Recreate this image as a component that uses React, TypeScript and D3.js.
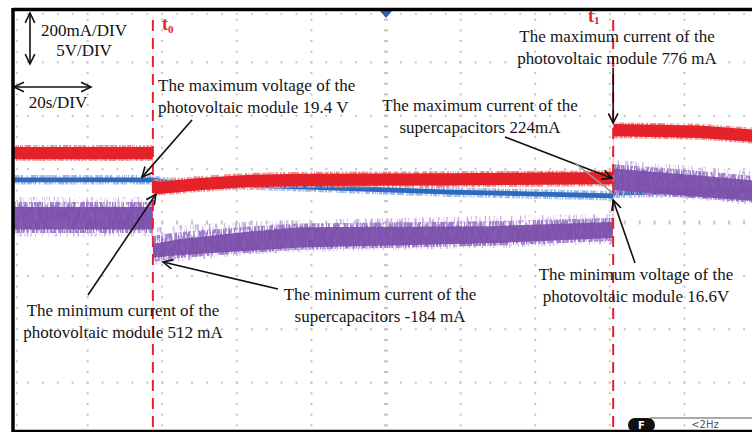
import React from 'react';
import * as d3 from 'd3';

// switching instants, seconds from the left edge of the screen (20 s/div)
const t0 = 37.5;
const t1 = 160.9;

// PV module current (red trace): [time s, position in divisions]
const pvCurrent: [number, number][] = [
  [0, 1.3], [37.4, 1.3], [37.6, 0.67], [39.4, 0.65], [50, 0.72], [63.5, 0.78],
  [77, 0.8], [117, 0.81], [160.8, 0.83], [161, 1.73], [184, 1.7], [200, 1.62],
];

// PV module voltage (blue trace)
const pvVoltage: [number, number][] = [
  [0, 0.8], [37.5, 0.8], [40, 0.76], [63.5, 0.7], [77, 0.67], [117, 0.57],
  [160.8, 0.5], [161, 0.55], [175, 0.57], [200, 0.61],
];

// supercapacitor current (purple trace): [time, centre, core half width, spike top, spike bottom]
const scCurrent: [number, number, number, number, number][] = [
  [0, 0.08, 0.21, 0.48, -0.26], [37.4, 0.08, 0.21, 0.48, -0.26],
  [37.6, -0.53, 0.13, -0.1, -0.8], [45, -0.46, 0.15, -0.05, -0.72],
  [63.5, -0.35, 0.18, 0.02, -0.6], [77, -0.28, 0.19, 0.05, -0.55],
  [128, -0.23, 0.16, 0.12, -0.48], [160.8, -0.14, 0.15, 0.16, -0.4],
  [161, 0.81, 0.2, 1.17, 0.5], [184, 0.68, 0.2, 1.05, 0.42], [200, 0.59, 0.19, 0.95, 0.32],
];

const scaleLines = ['200mA/DIV', '5V/DIV'];
const timeLabel = '20s/DIV';

const serif = '"Liberation Serif", "Times New Roman", serif';

const W = 752;
const H = 432;

const x = d3.scaleLinear().domain([0, 200]).range([13, 759]);
const y = d3.scaleLinear().domain([4, -4]).range([9, 436]);

// annotation: text lines, anchor in px, arrow tail px, arrow tip in data units
const notes = [
  { lines: ['The maximum voltage of the', 'photovoltaic module 19.4 V'], tx: 158, ty: 91, anchor: 'start', tail: [192, 120], tip: [34.6, 0.85] },
  { lines: ['The maximum current of the', 'photovoltaic module 776 mA'], tx: 617, ty: 42, anchor: 'middle', tail: [t1, 2.9], tip: [t1, 1.86], tailData: true },
  { lines: ['The maximum current of the', 'supercapacitors 224mA'], tx: 480, ty: 111, anchor: 'middle', tail: [505, 137], tip: [160.6, 0.83] },
  { lines: ['The minimum current of the', 'photovoltaic module 512 mA'], tx: 123, ty: 316, anchor: 'middle', tail: [88, 295], tip: [38.3, 0.53] },
  { lines: ['The minimum current of the', 'supercapacitors -184 mA'], tx: 380, ty: 300, anchor: 'middle', tail: [278, 289], tip: [40.2, -0.74] },
  { lines: ['The minimum voltage of the', 'photovoltaic module 16.6V'], tx: 636, ty: 280, anchor: 'middle', tail: [635, 263], tip: [t1, 0.42] },
];

function Arrow({ x1, y1, x2, y2 }: { x1: number; y1: number; x2: number; y2: number }) {
  const a = Math.atan2(y2 - y1, x2 - x1);
  const len = 11;
  const sp = 0.45;
  const h1 = [x2 - len * Math.cos(a - sp), y2 - len * Math.sin(a - sp)];
  const h2 = [x2 - len * Math.cos(a + sp), y2 - len * Math.sin(a + sp)];
  return (
    <g stroke="#111" strokeWidth={1.6} fill="none">
      <line x1={x1} y1={y1} x2={x2} y2={y2} />
      <polyline points={`${h1[0]},${h1[1]} ${x2},${y2} ${h2[0]},${h2[1]}`} />
    </g>
  );
}

export default function App() {
  const band = (d: [number, number][], hw: number) =>
    d3.area<[number, number]>()
      .x(p => x(p[0]))
      .y0(p => y(p[1] - hw))
      .y1(p => y(p[1] + hw))(d) || '';

  const scArea = (top: (r: number[]) => number, bot: (r: number[]) => number) =>
    d3.area<number[]>()
      .x(r => x(r[0]))
      .y0(r => y(bot(r)))
      .y1(r => y(top(r)))(scCurrent) || '';

  // grid dots
  const dots: JSX.Element[] = [];
  for (let i = 1; i < 10; i++) {
    const gx = x(i * 20);
    const centre = i === 5;
    for (let v = -4; v <= 4.001; v += 0.2) {
      const gy = y(v);
      if (gy < 12 || gy > 430) continue;
      dots.push(<rect key={`v${i}_${v.toFixed(1)}`} x={gx - (centre ? 2 : 1)} y={gy - 1} width={centre ? 4 : 2} height={2} fill="#c4c4c4" />);
    }
  }
  for (let j = -3; j <= 3; j++) {
    const gy = y(j);
    const centre = j === 0;
    for (let t = 0; t <= 200; t += 4) {
      const gx = x(t);
      if (gx < 16) continue;
      dots.push(<rect key={`h${j}_${t}`} x={gx - 1} y={gy - (centre ? 2 : 1)} width={2} height={centre ? 4 : 2} fill="#c4c4c4" />);
    }
  }
  // border ticks
  for (let v = -4; v <= 4.001; v += 0.2) {
    const gy = y(v);
    if (gy < 14 || gy > 430) continue;
    dots.push(<rect key={`lb${v.toFixed(1)}`} x={16} y={gy - 1} width={2} height={2} fill="#cfcfcf" />);
  }
  for (let t = 4; t <= 200; t += 4) {
    dots.push(<rect key={`tb${t}`} x={x(t) - 1} y={13} width={2} height={2} fill="#cfcfcf" />);
  }

  const xt0 = x(t0);
  const xt1 = x(t1);

  return (
    <svg width={W} height={H} style={{ position: 'absolute', left: 0, top: 0, background: '#fff' }}>
      <defs>
        <filter id="streakA" filterUnits="userSpaceOnUse" x={0} y={0} width={W} height={H}>
          <feTurbulence type="fractalNoise" baseFrequency="0.45 0.06" numOctaves={3} seed={4} result="n" />
          <feColorMatrix in="n" type="matrix" values="0 0 0 0 0  0 0 0 0 0  0 0 0 0 0  5 0 0 0 -2.5" result="a" />
          <feComposite in="SourceGraphic" in2="a" operator="in" />
        </filter>
        <filter id="streakB" filterUnits="userSpaceOnUse" x={0} y={0} width={W} height={H}>
          <feTurbulence type="fractalNoise" baseFrequency="0.55 0.1" numOctaves={3} seed={9} result="n" />
          <feColorMatrix in="n" type="matrix" values="0 0 0 0 0  0 0 0 0 0  0 0 0 0 0  5 0 0 0 -1.8" result="a" />
          <feComposite in="SourceGraphic" in2="a" operator="in" />
        </filter>
        <clipPath id="screen">
          <rect x={14} y={11} width={W} height={419} />
        </clipPath>
      </defs>

      <g>{dots}</g>

      <g clipPath="url(#screen)">
        {/* PV voltage */}
        <path d={band(pvVoltage, 0.09)} fill="#9db8e4" filter="url(#streakB)" />
        <path d={band(pvVoltage, 0.045)} fill="#2d69bd" />
        {/* PV current */}
        <path d={band(pvCurrent, 0.15)} fill="#f08a8a" filter="url(#streakB)" />
        <path d={band(pvCurrent, 0.115)} fill="#e5222a" />
        {/* supercapacitor current */}
        <path d={scArea(r => r[3], r => r[4])} fill="#c7b0e0" filter="url(#streakA)" />
        <path d={scArea(r => r[1] + r[2] + (r[3] - r[1] - r[2]) * 0.5, r => r[1] - r[2] - (r[1] - r[2] - r[4]) * 0.5)} fill="#9f7dca" filter="url(#streakB)" />
        <path d={scArea(r => r[1] + r[2], r => r[1] - r[2])} fill="#7b4ea9" opacity={0.92} />
      </g>

      {/* t0 / t1 markers */}
      {[xt0, xt1].map((xx, i) => (
        <line key={i} x1={xx} x2={xx} y1={20} y2={431} stroke="#e3232c" strokeWidth={2} strokeDasharray="11 7" />
      ))}
      <text x={162} y={30} fontFamily={serif} fontWeight="bold" fontSize={18} fill="#e3232c">
        t<tspan fontSize={11} dy={3}>0</tspan>
      </text>
      <text x={588} y={22} fontFamily={serif} fontWeight="bold" fontSize={18} fill="#e3232c">
        t<tspan fontSize={11} dy={2}>1</tspan>
      </text>

      {/* trigger marker */}
      <path d={`M${x(100) - 6},11 L${x(100) + 6},11 L${x(100)},18 Z`} fill="#2d5fb8" />

      {/* scale indicators */}
      <Arrow x1={30} y1={40} x2={30} y2={13} />
      <Arrow x1={30} y1={40} x2={30} y2={64} />
      <Arrow x1={50} y1={87} x2={14} y2={87} />
      <Arrow x1={50} y1={87} x2={91} y2={87} />
      {scaleLines.map((s, i) => (
        <text key={s} x={84} y={36 + i * 20} textAnchor="middle" fontFamily={serif} fontSize={17} fill="#111">{s}</text>
      ))}
      <text x={58} y={108} textAnchor="middle" fontFamily={serif} fontSize={17} fill="#111">{timeLabel}</text>

      {/* annotations */}
      {notes.map((n, i) => {
        const tail = n.tailData ? [x(n.tail[0]), y(n.tail[1])] : n.tail;
        return (
          <g key={i}>
            {n.lines.map((l, k) => (
              <text key={k} x={n.tx} y={n.ty + k * 22} textAnchor={n.anchor as any} fontFamily={serif} fontSize={17} fill="#151515">{l}</text>
            ))}
            <Arrow x1={tail[0]} y1={tail[1]} x2={x(n.tip[0])} y2={y(n.tip[1])} />
          </g>
        );
      })}
      <line x1={575} y1={163} x2={x(160.5)} y2={y(0.57)} stroke="#999" strokeWidth={1.5} />

      {/* readout */}
      <line x1={650} y1={418} x2={W} y2={418} stroke="#555" strokeWidth={1} />
      <rect x={628} y={418} width={27} height={14} rx={7} fill="#111" />
      <text x={641.5} y={429} textAnchor="middle" fontFamily="DejaVu Sans, sans-serif" fontWeight="bold" fontSize={10} fill="#fff">F</text>
      <text x={705} y={428} textAnchor="middle" fontFamily="DejaVu Sans, sans-serif" fontSize={10} fill="#555">&lt;2Hz</text>

      {/* frame */}
      <line x1={13} y1={9.5} x2={W} y2={9.5} stroke="#000" strokeWidth={3.5} />
      <line x1={13} y1={8} x2={13} y2={H} stroke="#000" strokeWidth={3.5} />
      <line x1={13} y1={431} x2={W} y2={431} stroke="#000" strokeWidth={2.5} />
    </svg>
  );
}
